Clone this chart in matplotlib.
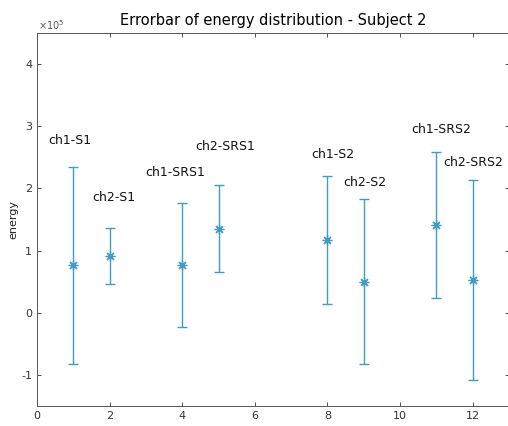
import matplotlib
matplotlib.use("Agg")
import matplotlib.pyplot as plt

x = [1, 2, 4, 5, 8, 9, 11, 12]
means = [0.763, 0.92, 0.763, 1.35, 1.166, 0.50, 1.41, 0.53]  # in 1e5
errs = [1.585, 0.45, 1.0, 0.70, 1.03, 1.33, 1.17, 1.61]      # in 1e5
labels = ["ch1-S1", "ch2-S1", "ch1-SRS1", "ch2-SRS1",
          "ch1-S2", "ch2-S2", "ch1-SRS2", "ch2-SRS2"]
label_x = [0.30, 1.52, 2.98, 4.36, 7.54, 8.43, 10.32, 11.2]
label_y = [2.77, 1.85, 2.26, 2.67, 2.54, 2.10, 2.94, 2.41]

scale = 1e5
col = "#3f9dc3"

fig = plt.figure(figsize=(5.08, 4.26), dpi=100)
ax = fig.add_axes([37/508, 20/426, (508-37)/508 + 0.002, (406-33)/426])

ax.errorbar(x, [m*scale for m in means], yerr=[e*scale for e in errs],
            fmt='none', ecolor=col, elinewidth=1.0, capsize=3.5, capthick=1.0)
ax.plot(x, [m*scale for m in means], linestyle='none', marker=(8, 2, 0),
        color=col, markersize=7, markeredgewidth=0.9)

for lx, ly, t in zip(label_x, label_y, labels):
    ax.text(lx, ly*scale, t, fontsize=9, va='center', ha='left', color='#111111')

ax.set_xlim(0, 13)
ax.set_ylim(-1.5e5, 4.5e5)
ax.set_xticks([0, 2, 4, 6, 8, 10, 12])
ax.set_yticks([-1e5, 0, 1e5, 2e5, 3e5, 4e5])
ax.set_yticklabels(["-1", "0", "1", "2", "3", "4"])
ax.tick_params(direction='in', length=3, labelsize=8, colors='#333333',
               top=True, right=True, width=0.6)
for s in ax.spines.values():
    s.set_color('#555555')
    s.set_linewidth(0.7)
ax.set_ylabel("energy", fontsize=8, color='#222222', labelpad=2)
ax.set_title("Errorbar of energy distribution - Subject 2", fontsize=10.5, pad=6)
fig.text(38/508, 1 - 25/426, r"$\times10^5$", fontsize=7, color='#555555',
         ha='left', va='center')

fig.savefig("out.png", dpi=100)
